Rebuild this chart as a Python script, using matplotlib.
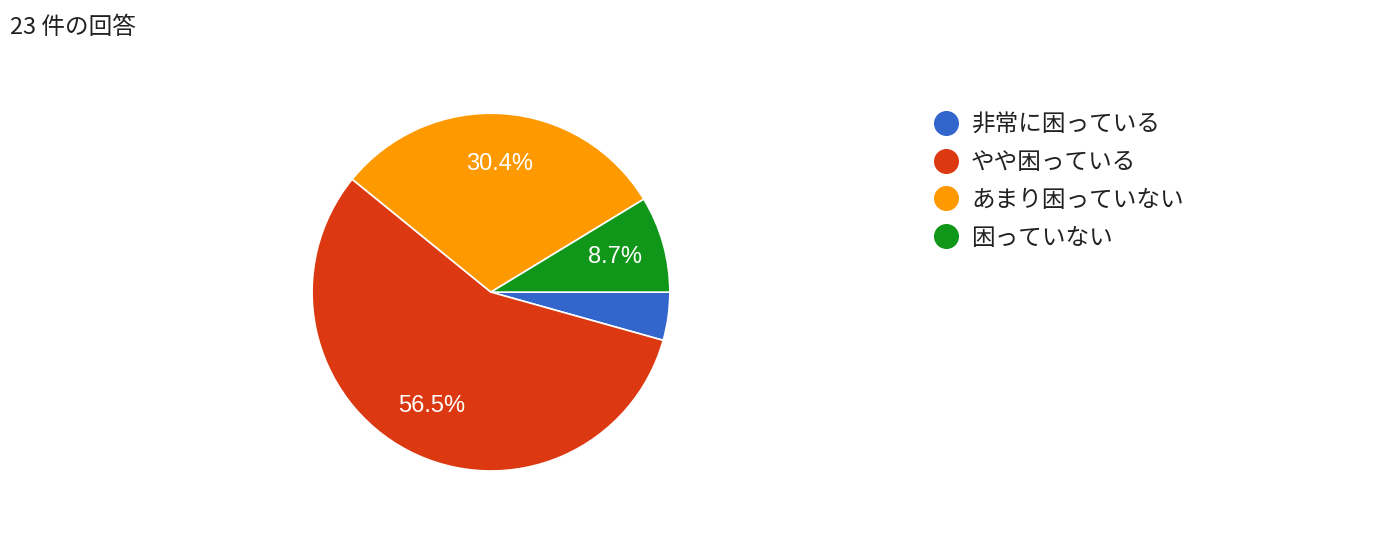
import matplotlib
matplotlib.use("Agg")
import matplotlib.pyplot as plt
from matplotlib.lines import Line2D

plt.rcParams['font.family'] = ['Noto Sans CJK JP', 'DejaVu Sans']

labels = ["非常に困っている", "やや困っている", "あまり困っていない", "困っていない"]
counts = [1, 13, 7, 2]
colors = ["#3366cc", "#dc3912", "#ff9900", "#109618"]
title = "23 件の回答"

fig = plt.figure(figsize=(13.76, 5.34), dpi=100)
ax = fig.add_axes([0.3568 - 0.130, 0.453 - 0.335, 0.260, 0.670])


def fmt(p):
    return f"{p:.1f}%" if p > 5 else ""


wedges, texts, autotexts = ax.pie(
    counts, colors=colors, startangle=0, counterclock=False,
    autopct=fmt, pctdistance=0.72,
    wedgeprops=dict(edgecolor="white", linewidth=1.2),
    textprops=dict(color="white", fontsize=17, family=["Liberation Sans", "DejaVu Sans"]),
)
ax.set_xlim(-1, 1)
ax.set_ylim(-1, 1)
ax.set_aspect("equal")

fig.text(10 / 1376, 1 - 28 / 534, title, fontsize=17, va="center", ha="left", color="#212121")

handles = [Line2D([0], [0], marker="o", linestyle="none", markersize=17,
                  markerfacecolor=c, markeredgecolor=c) for c in colors]
fig.legend(handles, labels, loc="upper left", bbox_to_anchor=(932 / 1376, 1 - 113 / 534),
           frameon=False, fontsize=17, handletextpad=0.45, labelspacing=0.63,
           handlelength=1.2, borderaxespad=0, borderpad=0, labelcolor="#212121")

fig.savefig("out.png", dpi=100)
